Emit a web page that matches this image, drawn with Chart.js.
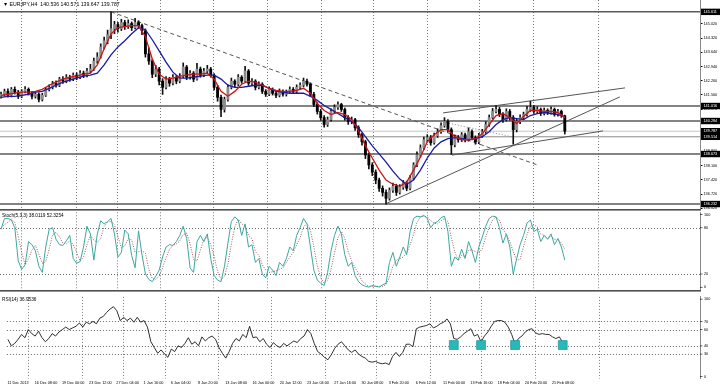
<!DOCTYPE html>
<html><head><meta charset="utf-8">
<script src="https://cdn.jsdelivr.net/npm/chart.js@4.4.1/dist/chart.umd.min.js"></script>
<style>
html,body{margin:0;padding:0;background:#fff;width:720px;height:388px;overflow:hidden;position:relative}
canvas{position:absolute;left:0}
#cMain{top:0}
#cStoch{top:209px}
#cRsi{top:290px}
</style></head><body>
<canvas id="cMain" width="720" height="209" style="width:720px;height:209px"></canvas>
<canvas id="cStoch" width="720" height="81" style="width:720px;height:81px"></canvas>
<canvas id="cRsi" width="720" height="98" style="width:720px;height:98px"></canvas>
<script>
// ---------- DATA (EURJPY H4, one entry = 2 bars) ----------
const mainTitle = '\u25BC EURJPY,H4  140.536 140.571 139.647 139.787';
const stochTitle = 'Stoch(5,3,3) 38.0119 52.3254';
const rsiTitle = 'RSI(14) 36.9536';

const xLabels = ['11 Dec 2013','16 Dec 08:00','19 Dec 00:00','23 Dec 12:00','27 Dec 04:00','1 Jan 16:00','6 Jan 04:00','8 Jan 20:00','13 Jan 08:00','16 Jan 00:00','20 Jan 12:00','23 Jan 04:00','27 Jan 16:00','30 Jan 08:00','3 Feb 20:00','6 Feb 12:00','11 Feb 00:00','13 Feb 16:00','18 Feb 04:00','20 Feb 20:00','25 Feb 08:00'];
const xLabelIdx = [0,8,16,24,32,40,48,56,64,72,80,88,96,104,112,120,128,136,144,152,160];
const weekStarts = [5.8,21.8,33.7,46.2,61.7,77.4,93.1,108.2,123.9,139.0,154.8,173.7];

const priceTicks = [136.020,136.720,137.420,138.100,138.800,139.490,140.180,140.870,141.560,142.260,142.940,143.640,144.320,145.020];
const levelPrices = [145.611,141.016,140.284,139.787,139.514,138.673,136.232];
const levelColors = ['#5a5a5a','#5a5a5a','#5a5a5a','#c4c4c4','#8a8a8a','#5a5a5a','#5a5a5a'];

const opens = [141.50,141.59,141.73,141.54,141.83,141.69,141.49,141.73,141.83,141.64,
141.49,141.59,141.34,141.54,141.83,141.93,142.13,142.03,142.33,142.23,
142.42,142.33,142.52,142.42,142.62,142.52,142.72,142.82,143.21,143.41,
143.90,144.20,144.50,144.79,144.99,144.79,145.09,144.89,145.04,144.84,
145.09,144.94,144.69,143.56,143.21,142.57,142.82,142.23,141.93,142.33,
142.13,142.42,142.23,142.47,142.92,142.42,142.62,142.33,142.82,142.52,
142.72,142.82,142.52,141.93,141.44,140.85,141.34,141.93,142.23,142.08,
142.42,142.23,142.72,142.13,142.23,141.93,142.08,141.73,141.59,141.83,
141.64,141.54,141.73,141.59,141.69,141.83,141.73,141.93,142.03,142.23,
142.08,141.59,141.09,140.75,140.45,140.11,140.35,140.75,140.95,141.09,
140.85,140.45,140.26,140.35,139.96,139.61,139.27,138.63,138.14,137.79,
137.40,137.00,136.80,136.51,136.90,137.10,136.80,137.05,137.25,137.00,
137.50,138.14,138.63,138.97,139.37,139.47,139.22,139.57,139.76,140.06,
140.26,139.86,139.12,139.47,139.37,139.61,139.37,139.76,139.47,139.27,
139.57,139.76,140.11,140.45,140.75,140.85,140.60,140.35,140.75,140.45,
139.86,140.26,140.45,140.60,140.85,140.95,140.75,140.85,140.65,140.80,
140.70,140.85,140.60,140.75,140.536];
const highs = [141.70,141.84,141.85,141.92,141.95,141.78,141.82,141.96,141.90,141.72,
141.70,141.66,141.64,141.92,142.05,142.22,142.25,142.42,142.45,142.55,
142.52,142.63,142.64,142.74,142.72,142.85,143.05,143.35,143.62,144.05,
144.38,144.72,145.611,145.15,145.10,145.25,145.20,145.22,145.12,145.30,
145.18,145.02,144.78,143.85,143.30,143.00,142.90,142.35,142.45,142.42,
142.55,142.50,142.60,143.12,143.00,142.75,142.70,143.10,142.92,142.85,
143.00,142.90,142.60,142.02,141.55,141.45,142.05,142.38,142.30,142.55,
142.50,142.95,142.80,142.35,142.30,142.20,142.15,141.82,141.95,141.90,
141.72,141.85,141.80,141.80,141.95,141.92,142.05,142.15,142.38,142.33,
142.15,141.68,141.18,140.85,140.55,140.48,140.88,141.08,141.22,141.15,
140.92,140.55,140.48,140.42,140.05,139.70,139.35,138.72,138.25,137.90,
137.50,137.12,136.92,137.02,137.25,137.20,137.18,137.38,137.35,137.62,
138.25,138.78,139.12,139.50,139.62,139.58,139.70,139.90,140.20,140.45,
140.35,139.95,139.60,139.58,139.72,139.70,139.95,139.85,139.56,139.68,
139.88,140.25,140.58,140.90,141.04,140.95,140.70,140.88,140.85,140.55,
140.38,140.58,140.72,141.00,141.25,141.05,140.98,140.92,140.92,140.88,
140.98,140.92,140.86,140.82,140.571];
const lows = [141.40,141.50,141.45,141.46,141.60,141.38,141.42,141.65,141.55,141.36,
141.40,141.22,141.26,141.48,141.75,141.85,141.94,141.96,142.12,142.15,
142.22,142.25,142.30,142.35,142.40,142.44,142.62,142.75,143.10,143.35,
143.80,144.05,144.30,144.55,144.62,144.70,144.75,144.80,144.70,144.78,
144.82,144.50,143.40,143.05,142.40,142.45,142.05,141.58,141.85,141.98,
142.05,142.10,142.15,142.40,142.30,142.33,142.20,142.28,142.42,142.45,
142.62,142.42,141.80,141.25,140.50,140.72,141.25,141.85,141.95,142.00,
142.12,142.18,142.02,142.03,141.80,141.85,141.62,141.48,141.52,141.55,
141.42,141.46,141.50,141.50,141.62,141.64,141.65,141.85,141.95,141.98,
141.48,140.98,140.62,140.32,139.98,140.02,140.28,140.66,140.85,140.75,
140.32,140.12,140.15,139.82,139.48,139.10,138.45,137.95,137.62,137.22,
136.85,136.62,136.23,136.42,136.80,136.65,136.72,136.95,136.88,136.92,
137.42,138.05,138.52,138.88,139.25,139.10,139.15,139.48,139.68,139.98,
139.75,138.65,139.02,139.25,139.28,139.26,139.30,139.36,139.15,139.18,
139.48,139.68,140.02,140.38,140.68,140.50,140.22,140.28,140.32,139.15,
139.75,140.15,140.35,140.52,140.75,140.66,140.65,140.55,140.58,140.60,
140.62,140.52,140.52,140.46,139.647];
const closes = [141.59,141.73,141.54,141.83,141.69,141.49,141.73,141.83,141.64,141.49,
141.59,141.34,141.54,141.83,141.93,142.13,142.03,142.33,142.23,142.42,
142.33,142.52,142.42,142.62,142.52,142.72,142.82,143.21,143.41,143.90,
144.20,144.50,144.79,144.99,144.79,145.09,144.89,145.04,144.84,145.09,
144.94,144.69,143.56,143.21,142.57,142.82,142.23,141.93,142.33,142.13,
142.42,142.23,142.47,142.92,142.42,142.62,142.33,142.82,142.52,142.72,
142.82,142.52,141.93,141.44,140.85,141.34,141.93,142.23,142.08,142.42,
142.23,142.72,142.13,142.23,141.93,142.08,141.73,141.59,141.83,141.64,
141.54,141.73,141.59,141.69,141.83,141.73,141.93,142.03,142.23,142.08,
141.59,141.09,140.75,140.45,140.11,140.35,140.75,140.95,141.09,140.85,
140.45,140.26,140.35,139.96,139.61,139.27,138.63,138.14,137.79,137.40,
137.00,136.80,136.51,136.90,137.10,136.80,137.05,137.25,137.00,137.50,
138.14,138.63,138.97,139.37,139.47,139.22,139.57,139.76,140.06,140.26,
139.86,139.12,139.47,139.37,139.61,139.37,139.76,139.47,139.27,139.57,
139.76,140.11,140.45,140.75,140.85,140.60,140.35,140.75,140.45,139.86,
140.26,140.45,140.60,140.85,140.95,140.75,140.85,140.65,140.80,140.70,
140.85,140.60,140.75,140.55,139.787];

// moving averages, one value every 2 entries
const maFast = [141.54,141.59,141.64,141.69,141.69,141.73,141.83,142.03,142.18,142.33,
142.42,142.47,142.57,142.62,143.02,143.81,144.54,144.84,144.89,144.94,
144.94,144.40,143.31,142.57,142.33,142.38,142.47,142.52,142.57,142.57,
142.62,142.33,141.73,141.49,141.73,142.08,142.23,142.18,142.03,141.88,
141.78,141.73,141.73,141.78,141.88,141.64,141.14,140.80,140.60,140.70,
140.60,140.35,139.81,139.07,138.48,137.89,137.40,137.20,137.10,137.30,
137.89,138.53,139.27,139.61,139.86,139.86,139.52,139.37,139.37,139.42,
139.66,140.11,140.55,140.65,140.45,140.16,140.50,140.80,140.80,140.75,
140.75,140.70,140.45];
const maSlow = [141.44,141.49,141.49,141.54,141.59,141.69,141.73,141.88,142.03,142.18,
142.28,142.38,142.47,142.52,142.62,143.02,143.51,143.90,144.20,144.54,
144.84,144.74,144.25,143.71,143.16,142.67,142.38,142.38,142.42,142.47,
142.52,142.52,142.33,142.03,141.93,141.93,141.98,142.03,142.03,141.88,
141.73,141.69,141.64,141.64,141.64,141.49,141.29,141.04,140.85,140.65,
140.45,140.26,139.96,139.52,139.07,138.68,138.28,137.84,137.45,137.20,
137.40,137.89,138.48,138.97,139.27,139.42,139.47,139.42,139.37,139.42,
139.52,139.76,140.11,140.35,140.45,140.40,140.35,140.55,140.65,140.70,
140.65,140.60,140.50];

// trend lines: [index, price] end points
const trendDashed = [[32,145.611],[156,138.14]];
const trendUpper  = [[128.6,140.68],[181.5,141.90]];
const trendRising = [[112,136.25],[180,141.46]];
const trendLower  = [[131.2,138.62],[175.1,139.80]];
const trendDotted = [[128.6,140.24],[149,139.50]];

const stochMain = [78,92,92,90,80,37,26,32,62,58,
50,30,22,55,78,80,65,58,57,63,
70,40,34,36,55,82,72,38,72,89,
85,88,92,72,42,48,77,72,44,28,
76,45,20,13,10,17,25,42,55,58,
57,62,70,82,66,28,22,62,70,62,
72,40,18,12,10,30,60,88,94,90,
70,85,55,58,35,40,20,15,30,25,
18,35,30,40,55,50,70,80,92,85,
55,25,12,8,5,22,50,70,82,72,
45,30,35,18,10,6,4,3,5,4,
3,6,8,35,48,30,42,55,45,75,
92,95,94,96,92,80,86,88,93,95,
75,30,42,38,52,40,62,50,35,55,
68,82,92,95,94,80,60,72,55,20,
40,58,70,86,90,75,78,62,70,65,
72,58,66,55,38.01];
const stochSignal = [80,84,87,91,87,69,48,32,40,51,
57,46,34,36,52,71,74,68,60,59,
63,58,48,37,42,58,70,64,61,66,
82,87,88,84,69,54,56,66,64,48,
49,50,47,26,14,13,17,28,41,52,
57,59,63,71,73,59,39,37,51,65,
68,58,43,23,13,17,33,59,81,91,
85,82,70,66,49,44,32,25,22,23,
24,26,28,35,42,48,58,67,81,86,
77,55,31,15,8,12,26,47,67,75,
66,49,37,28,21,11,7,4,4,4,
4,4,6,16,30,38,40,42,47,58,
71,87,94,95,94,89,86,85,89,92,
88,67,49,37,44,43,51,51,49,47,
53,68,81,90,94,90,78,71,62,49,
38,39,56,71,82,84,81,72,70,66,
69,65,65,60,52.33];
const stochLevels = [80,20];
const stochLabels = [100,80,20,0];

const rsiValues = [48,40,43,48,54,50,60,55,52,58,
50,45,49,55,52,57,60,63,60,62,
64,68,63,69,67,70,67,74,76,81,
85,88,83,71,75,71,74,69,75,69,
71,63,45,38,31,35,30,26,36,33,
40,38,43,50,42,45,40,51,46,50,
52,48,38,31,25,33,43,49,46,54,
50,64,50,51,45,49,42,38,44,40,
38,43,40,43,46,44,49,52,60,55,
43,33,30,26,23,29,37,42,45,40,
35,32,35,30,27,25,21,20,21,19,
18,19,17,27,32,27,32,42,42,39,
61,63,64,65,67,62,64,67,69,73,
67,49,48,51,55,58,61,52,54,45,
52,57,64,70,71,71,69,63,54,42,
49,52,57,60,61,56,54,55,54,54,
51,49,51,44,36.95];
const rsiLevels = [70,60,40,30];
const rsiLabels = [100,70,60,40,30,0];
const rsiMarkIdx = [131,139,149,163];
const rsiMarkVal = [41,41,41,41];

// ---------- RENDERING ----------
const X_MIN = -0.3, X_MAX = 203.33;
const FONT = '"Liberation Sans", Arial, sans-serif';
Chart.defaults.font.family = FONT;
Chart.defaults.animation = false;

function xAxis(){ return {type:'linear', min:X_MIN, max:X_MAX, display:false, offset:false, grid:{offset:false}}; }
function zeroPad(s){ s.paddingTop=0; s.paddingBottom=0; s.paddingLeft=0; s.paddingRight=0; }

const weekGrid = {
  id:'weekGrid',
  beforeDatasetsDraw(chart){
    const {ctx, chartArea:a, scales:{x}} = chart;
    ctx.save(); ctx.strokeStyle='#7a7a7a'; ctx.lineWidth=1; ctx.setLineDash([1,2]);
    weekStarts.forEach(w=>{
      const px = Math.round(x.getPixelForValue(w))+0.5;
      if (px > a.right) return;
      ctx.beginPath(); ctx.moveTo(px,a.top); ctx.lineTo(px,a.bottom); ctx.stroke();
    });
    ctx.restore();
  }
};

function seg(pts){ return pts.map(p=>({x:p[0], y:p[1]})); }
function lineDs(data, color, width, dash, order){
  return {type:'line', data, borderColor:color, borderWidth:width, borderDash:dash||[], pointRadius:0, tension:0, order, fill:false};
}

// ----- main price chart -----
const mainDatasets = [];
levelPrices.forEach((v,k)=>{
  mainDatasets.push(lineDs([{x:X_MIN,y:v},{x:X_MAX,y:v}], levelColors[k], levelColors[k]==='#5a5a5a'?1.5:1, [], 20));
});
mainDatasets.push(lineDs(seg(trendDashed), '#555', 1, [4,3], 15));
mainDatasets.push(lineDs(seg(trendUpper), '#555', 1, [], 15));
mainDatasets.push(lineDs(seg(trendRising), '#555', 1, [], 15));
mainDatasets.push(lineDs(seg(trendLower), '#555', 1, [], 15));
mainDatasets.push(lineDs(seg(trendDotted), '#888', 1, [1,2], 15));
mainDatasets.push({type:'bar', data: closes.map((c,i)=>({x:i, y:[lows[i], highs[i]]})), backgroundColor:'#111', barThickness:1, grouped:false, order:8});
mainDatasets.push({type:'bar', data: closes.map((c,i)=>({x:i, y:[opens[i], c]})),
  backgroundColor: closes.map((c,i)=> c>=opens[i] ? '#8c8c8c' : '#000'),
  barThickness:2.2, grouped:false, minBarLength:1, order:7});
mainDatasets.push(lineDs(maSlow.map((v,k)=>({x:2*k, y:v})), '#1a1aa8', 1.3, [], 3));
mainDatasets.push(lineDs(maFast.map((v,k)=>({x:2*k, y:v})), '#cc1414', 1.3, [], 2));

const mainDeco = {
  id:'mainDeco',
  afterDraw(chart){
    const {ctx, scales:{y}} = chart;
    ctx.save();
    ctx.font = '3.8px '+FONT; ctx.textBaseline='middle'; ctx.textAlign='left';
    levelPrices.forEach(v=>{
      const py = y.getPixelForValue(v);
      ctx.fillStyle='#000'; ctx.fillRect(701, py-3.2, 19, 6.4);
      ctx.fillStyle='#fff'; ctx.fillText(v.toFixed(3), 703.5, py+0.2);
    });
    ctx.fillStyle='#000'; ctx.font='5.2px '+FONT; ctx.textBaseline='middle';
    ctx.fillText(mainTitle, 3, 4.5);
    ctx.restore();
  }
};

new Chart(document.getElementById('cMain'), {
  type:'bar',
  data:{datasets:mainDatasets},
  options:{
    responsive:false, devicePixelRatio:1, animation:false,
    layout:{padding:0},
    plugins:{legend:{display:false}, tooltip:{enabled:false}},
    scales:{
      x: xAxis(),
      y:{type:'linear', position:'right', min:135.99, max:146.19,
        afterBuildTicks(s){ s.ticks = priceTicks.map(v=>({value:v})); },
        afterFit(s){ s.width=20; zeroPad(s); },
        ticks:{font:{size:3.8}, color:'#000', padding:1, callback:v=>v.toFixed(3), autoSkip:false},
        grid:{drawOnChartArea:false, drawTicks:true, tickLength:2.5, color:'#000'},
        border:{display:true, color:'#8a8a8a', width:1}
      }
    }
  },
  plugins:[weekGrid, mainDeco]
});

// ----- sub panels -----
function panelDeco(levels, labels, title, withDates){
  return {
    id:'panelDeco',
    beforeDatasetsDraw(chart){
      const {ctx, chartArea:a, scales:{y}} = chart;
      ctx.save(); ctx.strokeStyle='#6a6a6a'; ctx.lineWidth=1; ctx.setLineDash([1,2]);
      levels.forEach(v=>{
        const py = Math.round(y.getPixelForValue(v))+0.5;
        ctx.beginPath(); ctx.moveTo(a.left,py); ctx.lineTo(a.right,py); ctx.stroke();
      });
      ctx.restore();
    },
    afterDraw(chart){
      const {ctx, chartArea:a, scales:{x,y}} = chart;
      ctx.save();
      ctx.fillStyle='#505050'; ctx.fillRect(0,0,701,1.6);
      ctx.font='3.8px '+FONT; ctx.textBaseline='middle'; ctx.textAlign='left'; ctx.fillStyle='#000';
      labels.forEach(v=>{
        let py = y.getPixelForValue(v);
        py = Math.min(Math.max(py, a.top+2.2), a.bottom-2.2);
        ctx.fillRect(700, py-0.25, 2.5, 0.6);
        ctx.fillText(String(v), 704, py+0.2);
      });
      if (withDates){
        xLabelIdx.forEach((v,k)=>{
          const px = x.getPixelForValue(v);
          ctx.fillText(xLabels[k], px-0.5, a.bottom+4.2);
        });
      }
      ctx.font='4.7px '+FONT; ctx.textBaseline='middle';
      ctx.fillText(title, 2, a.top+3.2);
      ctx.restore();
    }
  };
}

new Chart(document.getElementById('cStoch'), {
  type:'line',
  data:{datasets:[
    {data: stochSignal.map((v,i)=>({x:i,y:v})), borderColor:'#9a5a5a', borderWidth:1, borderDash:[1,1.5], pointRadius:0, order:2},
    {data: stochMain.map((v,i)=>({x:i,y:v})), borderColor:'#3ea7a0', borderWidth:1, pointRadius:0, order:1}
  ]},
  options:{
    responsive:false, devicePixelRatio:1, animation:false,
    layout:{padding:{top:3.3, bottom:0.6, left:0, right:0}},
    plugins:{legend:{display:false}, tooltip:{enabled:false}},
    scales:{
      x: xAxis(),
      y:{type:'linear', position:'right', min:0, max:100,
        afterFit(s){ s.width=20; zeroPad(s); },
        ticks:{display:false}, grid:{display:false},
        border:{display:true, color:'#8a8a8a', width:1}}
    }
  },
  plugins:[weekGrid, panelDeco(stochLevels, stochLabels, stochTitle, false)]
});

new Chart(document.getElementById('cRsi'), {
  type:'line',
  data:{datasets:[
    {data: rsiMarkIdx.map((x,k)=>({x, y:rsiMarkVal[k]})), showLine:false, pointStyle:'rect', pointRadius:6.3,
      pointBackgroundColor:'#27b9b9', pointBorderColor:'#128a8a', pointBorderWidth:0.6, order:0},
    {data: rsiValues.map((v,i)=>({x:i,y:v})), borderColor:'#1a1a1a', borderWidth:0.9, pointRadius:0, order:1}
  ]},
  options:{
    responsive:false, devicePixelRatio:1, animation:false,
    layout:{padding:{top:2.5, bottom:9.5, left:0, right:0}},
    plugins:{legend:{display:false}, tooltip:{enabled:false}},
    scales:{
      x: xAxis(),
      y:{type:'linear', position:'right', min:0, max:100,
        afterFit(s){ s.width=20; zeroPad(s); },
        ticks:{display:false}, grid:{display:false},
        border:{display:true, color:'#8a8a8a', width:1}}
    }
  },
  plugins:[weekGrid, panelDeco(rsiLevels, rsiLabels, rsiTitle, true)]
});
</script>
</body></html>
